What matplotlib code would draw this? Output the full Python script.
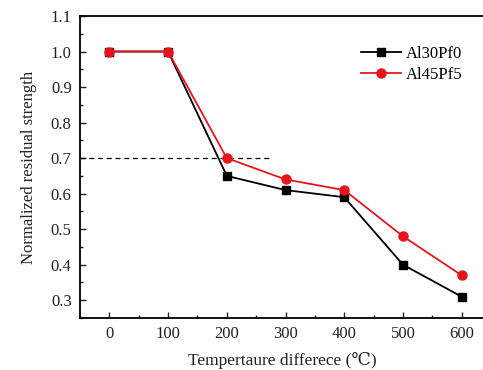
import matplotlib
matplotlib.use("Agg")
import matplotlib.pyplot as plt
from matplotlib.ticker import MultipleLocator

# Data
temperature = [0, 100, 200, 300, 400, 500, 600]
al30pf0 = [1.0, 1.0, 0.65, 0.61, 0.59, 0.40, 0.31]
al45pf5 = [1.0, 1.0, 0.70, 0.64, 0.61, 0.48, 0.37]
threshold = 0.7
threshold_x = [-50, 275]
y_ticks = [0.3, 0.4, 0.5, 0.6, 0.7, 0.8, 0.9, 1.0, 1.1]

plt.rcParams["font.family"] = ["Liberation Serif", "DejaVu Serif"]

fig = plt.figure(figsize=(4.83, 3.70), dpi=100)
ax = fig.add_axes([80 / 483, 1 - 318 / 370, 404 / 483, 302 / 370])

ax.plot(threshold_x, [threshold, threshold], color="black", linestyle="--",
        linewidth=0.9, dashes=(4, 3))
ax.plot(temperature, al30pf0, color="black", marker="s", markersize=5.5,
        linewidth=1.3, label="Al30Pf0")
ax.plot(temperature, al45pf5, color="#e8141c", marker="o", markersize=6.5,
        linewidth=1.3, label="Al45Pf5")

ax.set_xlim(-50, 638)
ax.set_ylim(0.25, 1.1)
ax.xaxis.set_major_locator(MultipleLocator(100))
ax.xaxis.set_minor_locator(MultipleLocator(50))
ax.yaxis.set_minor_locator(MultipleLocator(0.05))
ax.set_yticks(y_ticks)
ax.set_yticklabels([f"{v:.1f}" for v in y_ticks])

ax.tick_params(which="both", direction="in", top=False, right=False,
               labelsize=12, colors="#222222")
ax.tick_params(which="major", length=4, width=1.0, pad=6)
ax.tick_params(which="minor", length=2, width=1.0)
for side in ["left", "bottom", "top"]:
    ax.spines[side].set_linewidth(1.3)
ax.spines["right"].set_visible(False)

ax.set_xlabel("Tempertaure differece (\u2103)", fontsize=12.5, color="#222222", labelpad=7)
ax.set_ylabel("Normalized residual strength", fontsize=12, color="#222222", labelpad=10)

ax.legend(loc="upper right", bbox_to_anchor=(0.985, 0.95), frameon=False,
          fontsize=12, handlelength=2.4, handletextpad=0.3, labelspacing=0.3)

fig.savefig("out.png", dpi=100)
